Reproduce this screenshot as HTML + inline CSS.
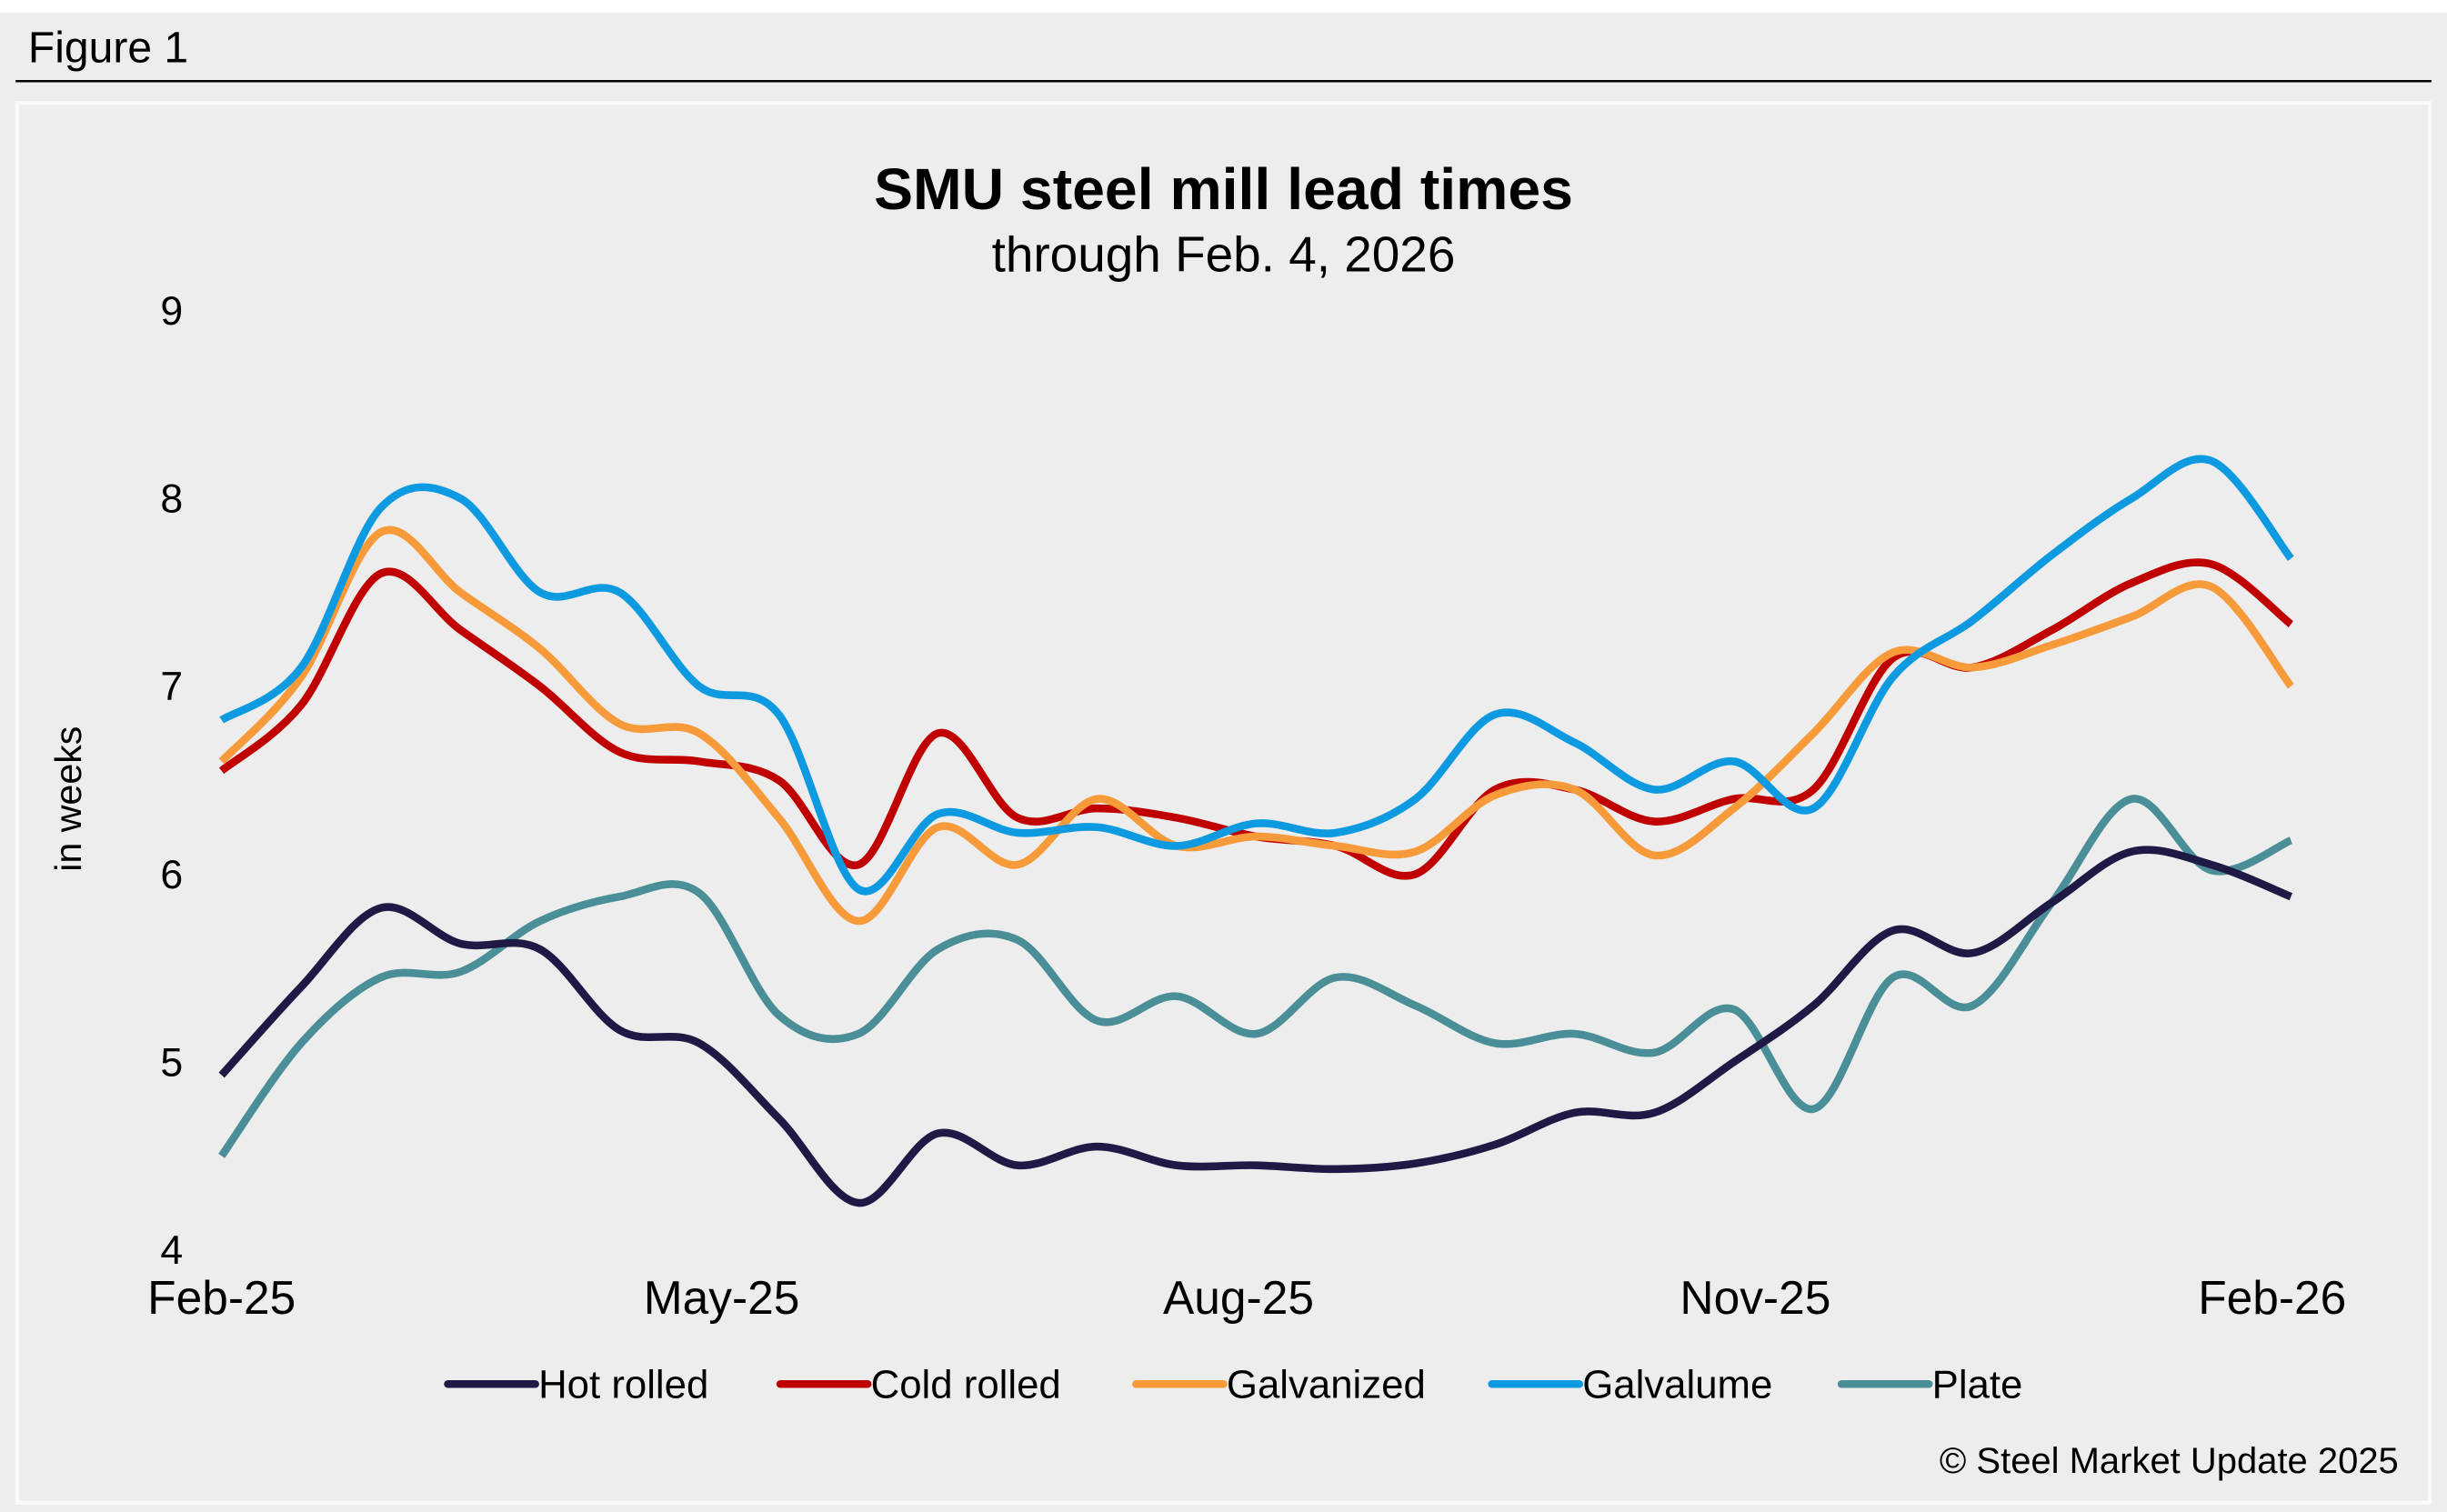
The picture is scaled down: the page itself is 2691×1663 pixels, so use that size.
<!DOCTYPE html>
<html><head><meta charset="utf-8">
<style>
html,body{margin:0;padding:0;background:#ffffff;}
svg{display:block;}
text{font-family:"Liberation Sans",sans-serif;}
</style></head>
<body>
<svg id="chart" width="2691" height="1663" viewBox="0 0 1568 969" preserveAspectRatio="none">
  <rect x="0" y="8" width="1568" height="961" fill="#ededed"/>
  <text x="18" y="40" font-size="28" fill="#000">Figure 1</text>
  <line x1="10" y1="52" x2="1558" y2="52" stroke="#000" stroke-width="1.5"/>
  <rect x="11" y="66" width="1546" height="897" fill="#ededed" stroke="#fafafa" stroke-width="2.5"/>
  <text x="784" y="134" font-size="37.5" font-weight="bold" text-anchor="middle" fill="#000">SMU steel mill lead times</text>
  <text x="784" y="174" font-size="32" text-anchor="middle" fill="#000">through Feb. 4, 2026</text>
  <text transform="translate(52,512) rotate(-90)" font-size="24" text-anchor="middle" fill="#000">in weeks</text>
  <g id="yticks"></g>
  <g id="xticks"></g>
  <g id="series"></g>
  <g id="legend"></g>
  <text x="1537" y="944" font-size="23.3" text-anchor="end" fill="#000">© Steel Market Update 2025</text>
</svg>
<script>
const yTicks = [4,5,6,7,8,9];
const xTickLabels = ["Feb-25","May-25","Aug-25","Nov-25","Feb-26"];
const xTickDays = [0,89,181,273,365];
const seriesNames = ["Hot rolled","Cold rolled","Galvanized","Galvalume","Plate"];
const hotRolled = [4.93,5.4,5.82,5.63,5.6,5.17,5.1,4.7,4.25,4.62,4.45,4.55,4.45,4.45,4.43,4.46,4.56,4.73,4.73,5.0,5.3,5.7,5.58,5.85,6.12,6.05,5.88];
const coldRolled = [6.55,6.9,7.6,7.3,7.0,6.65,6.6,6.5,6.05,6.75,6.3,6.35,6.3,6.2,6.15,6.0,6.45,6.45,6.28,6.4,6.45,7.15,7.1,7.3,7.55,7.65,7.33];
const galvanized = [6.6,7.05,7.82,7.5,7.2,6.8,6.75,6.3,5.75,6.25,6.05,6.4,6.15,6.2,6.15,6.12,6.42,6.45,6.1,6.35,6.75,7.18,7.1,7.22,7.37,7.53,7.0];
const galvalume = [6.82,7.1,7.95,8.0,7.5,7.5,7.0,6.85,5.92,6.32,6.22,6.25,6.15,6.27,6.22,6.4,6.85,6.7,6.45,6.6,6.35,7.05,7.35,7.7,8.0,8.2,7.68];
const plate = [4.5,5.1,5.45,5.48,5.75,5.88,5.9,5.25,5.15,5.6,5.65,5.22,5.35,5.15,5.45,5.3,5.1,5.15,5.05,5.28,4.75,5.45,5.3,5.85,6.4,6.02,6.18];
const colors = ["#1f1a45","#c00000","#f79a3a","#0e9ae0","#4a8f98"];
const allSeries = [hotRolled,coldRolled,galvanized,galvalume,plate];

const NS = "http://www.w3.org/2000/svg";
const yScale = v => 801 - (v - 4) * 120.4;
const xScale = i => 142 + i * 51; // biweekly survey index
const xDay = d => 142 + d * 3.6; // days since Feb 1, 2025

const yg = document.getElementById("yticks");
yTicks.forEach(t => {
  const el = document.createElementNS(NS,"text");
  el.setAttribute("x",110); el.setAttribute("y",yScale(t)+9);
  el.setAttribute("font-size","26"); el.setAttribute("text-anchor","middle");
  el.textContent = t;
  
  
  yg.appendChild(el);
});
const xg = document.getElementById("xticks");
xTickLabels.forEach((l,k) => {
  const el = document.createElementNS(NS,"text");
  el.setAttribute("x",xDay(xTickDays[k])); el.setAttribute("y",842);
  el.setAttribute("font-size","30"); el.setAttribute("text-anchor","middle");
  el.textContent = l;
  
  
  xg.appendChild(el);
});

function smoothPath(vals){
  const p = vals.map((v,i)=>[xScale(i),yScale(v)]);
  let d = "M"+p[0][0]+","+p[0][1];
  for(let i=0;i<p.length-1;i++){
    const p0=p[i-1]||p[i], p1=p[i], p2=p[i+1], p3=p[i+2]||p2;
    const c1=[p1[0]+(p2[0]-p0[0])/6, p1[1]+(p2[1]-p0[1])/6];
    const c2=[p2[0]-(p3[0]-p1[0])/6, p2[1]-(p3[1]-p1[1])/6];
    d+=" C"+c1[0]+","+c1[1]+" "+c2[0]+","+c2[1]+" "+p2[0]+","+p2[1];
  }
  return d;
}
const sg = document.getElementById("series");
[4,0,1,2,3].forEach(k => {
  const path = document.createElementNS(NS,"path");
  path.setAttribute("d",smoothPath(allSeries[k]));
  path.setAttribute("fill","none");
  path.setAttribute("stroke",colors[k]);
  path.setAttribute("stroke-width","5");
  path.setAttribute("stroke-linejoin","round");
  
  
  sg.appendChild(path);
});
const lg = document.getElementById("legend");
const legendX = [287,500,728,956,1180];
seriesNames.forEach((n,k) => {
  const g = document.createElementNS(NS,"g");
  
  
  const ln = document.createElementNS(NS,"line");
  ln.setAttribute("x1",legendX[k]); ln.setAttribute("x2",legendX[k]+56);
  ln.setAttribute("y1",887); ln.setAttribute("y2",887);
  ln.setAttribute("stroke",colors[k]); ln.setAttribute("stroke-width","5");
  ln.setAttribute("stroke-linecap","round");
  
  
  const tx = document.createElementNS(NS,"text");
  tx.setAttribute("x",legendX[k]+58); tx.setAttribute("y",896);
  tx.setAttribute("font-size","25.5");
  tx.textContent = n;
  
  
  g.appendChild(ln); g.appendChild(tx); lg.appendChild(g);
});
</script>
</body></html>
